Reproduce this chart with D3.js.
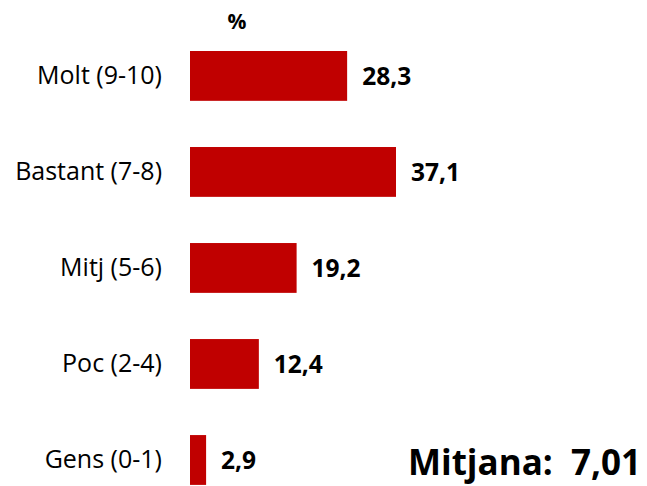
<!DOCTYPE html>
<html><head><meta charset="utf-8">
<script src="https://cdn.jsdelivr.net/npm/d3@7/dist/d3.min.js"></script>
<style>body{margin:0;background:#fff}svg{display:block}</style>
</head><body>
<svg id="c" width="647" height="486"></svg>
<script>
const categories = ["Molt (9-10)", "Bastant (7-8)", "Mitj (5-6)", "Poc (2-4)", "Gens (0-1)"];
const values = [28.3, 37.1, 19.2, 12.4, 2.9];
const unitLabel = "%";
const meanLabel = "Mitjana:";
const meanValue = "7,01";

const svg = d3.select("#c");
const font = "'Open Sans', 'Noto Sans', sans-serif";
const x = d3.scaleLinear().domain([0, 37.1]).range([190, 396]);
const y = d3.scaleBand().domain(categories).range([51, 484.9]).paddingInner(0.481).paddingOuter(0);
const bw = y.bandwidth();

svg.selectAll("rect.bar").data(values).join("rect")
  .attr("class", "bar")
  .attr("x", x(0))
  .attr("y", (d, i) => y(categories[i]))
  .attr("width", d => x(d) - x(0))
  .attr("height", bw)
  .attr("fill", "#C00000");

const yAxis = d3.axisLeft(y).tickSize(0).tickPadding(0);
const g = svg.append("g").attr("transform", "translate(162,0)").call(yAxis);
g.select(".domain").remove();
g.selectAll("text").attr("font-family", font).attr("font-size", 25).attr("fill", "#000")
  .attr("dy", "0.33em");

svg.selectAll("text.val").data(values).join("text")
  .attr("class", "val")
  .attr("x", d => x(d) + 15)
  .attr("y", (d, i) => y(categories[i]) + bw / 2)
  .attr("dy", "0.38em")
  .attr("font-family", font).attr("font-weight", "bold").attr("font-size", 24.5)
  .text(d => d3.format(".1f")(d).replace(".", ","));

svg.append("text").attr("x", 237).attr("y", 29).attr("text-anchor", "middle")
  .attr("font-family", font).attr("font-weight", "bold").attr("font-size", 21).text(unitLabel);

svg.append("text").attr("x", 641).attr("y", 475).attr("text-anchor", "end")
  .attr("font-family", font).attr("font-weight", "bold").attr("font-size", 35)
  .text(meanLabel + "\u00a0 " + meanValue);
</script>
</body></html>
